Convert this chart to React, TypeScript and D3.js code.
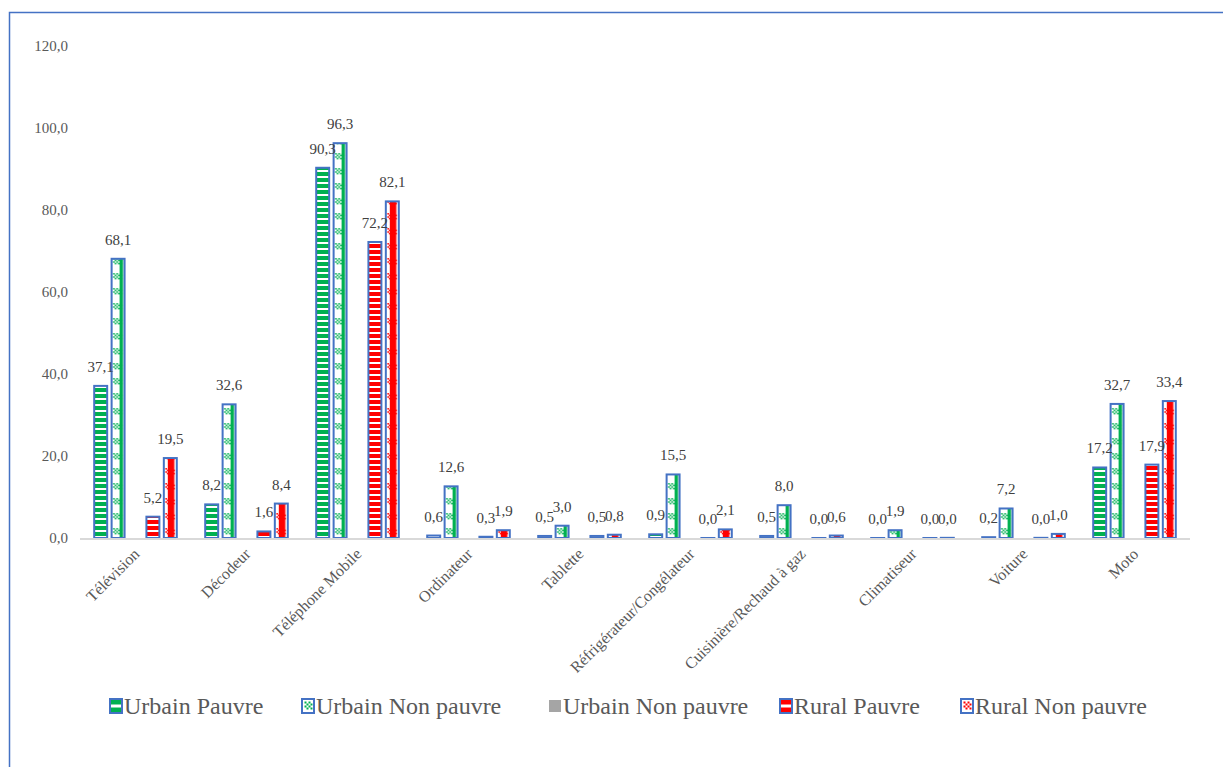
import React from "react";
import * as d3 from "d3";

const categories = [
  "Télévision",
  "Décodeur",
  "Téléphone Mobile",
  "Ordinateur",
  "Tablette",
  "Réfrigérateur/Congélateur",
  "Cuisinière/Rechaud à gaz",
  "Climatiseur",
  "Voiture",
  "Moto",
];
const urbainPauvre = [37.1, 8.2, 90.3, 0.6, 0.5, 0.9, 0.5, 0.0, 0.2, 17.2];
const urbainNonPauvre = [68.1, 32.6, 96.3, 12.6, 3.0, 15.5, 8.0, 1.9, 7.2, 32.7];
const urbainNonPauvreGris: (number | null)[] = [null, null, null, null, null, null, null, null, null, null];
const ruralPauvre = [5.2, 1.6, 72.2, 0.3, 0.5, 0.0, 0.0, 0.0, 0.04, 17.9];
const ruralNonPauvre = [19.5, 8.4, 82.1, 1.9, 0.8, 2.1, 0.6, 0.04, 1.0, 33.4];
const seriesNames = ["Urbain Pauvre", "Urbain Non pauvre", "Urbain Non pauvre", "Rural Pauvre", "Rural Non pauvre"];
const yTicks = [0, 20, 40, 60, 80, 100, 120];

const W = 1223;
const H = 767;
const FONT = '"Liberation Serif", "DejaVu Serif", serif';
const BLUE = "#4472C4";
const GREEN = "#00B050";
const RED = "#FF0000";

type Kind = "hstripe" | "motif" | "grey";
const seriesStyle: { kind: Kind; color: string }[] = [
  { kind: "hstripe", color: GREEN },
  { kind: "motif", color: GREEN },
  { kind: "grey", color: "#A5A5A5" },
  { kind: "hstripe", color: RED },
  { kind: "motif", color: RED },
];
const legendX = [110, 302, 549, 780, 961];

const fmt = (v: number) => v.toFixed(1).replace(".", ",");
const tStyle = { fontFamily: FONT };

export default function App() {
  const allSeries = [urbainPauvre, urbainNonPauvre, urbainNonPauvreGris, ruralPauvre, ruralNonPauvre];
  const x = d3.scaleBand<string>().domain(categories).range([80, 1190]).paddingInner(0.216).paddingOuter(0.108);
  const inner = d3
    .scaleBand<number>()
    .domain([0, 1, 2, 3, 4])
    .range([0, x.bandwidth()])
    .paddingInner(0.14)
    .paddingOuter(0.07);
  const y = d3.scaleLinear().domain([0, 120]).range([538, 46]);
  const y0 = y(0);
  const bw = inner.bandwidth();

  const defs: React.ReactNode[] = [];
  const bars: React.ReactNode[] = [];
  const labels: React.ReactNode[] = [];

  ["g", "r"].forEach((k) => {
    const c = k === "g" ? GREEN : RED;
    defs.push(
      <pattern key={"hs" + k} id={"hs-" + k} patternUnits="userSpaceOnUse" x={0} y={y0} width={8} height={6}>
        <rect x={0} y={0} width={8} height={6} fill="#fff" />
        <rect x={0} y={0} width={8} height={4} fill={c} />
      </pattern>
    );
  });

  const motif = (c: string, stripeX: number, stripeW: number, w: number, keyp: string) => {
    const sq: React.ReactNode[] = [];
    const s = 1.6;
    for (let r = 0; r < 4; r++) {
      for (let col = 0; col < 6; col++) {
        if ((r + col) % 2 === 0) {
          sq.push(<rect key={keyp + r + "-" + col} x={2.5 + col * s} y={5 + r * s} width={s} height={s} fill={c} />);
        }
      }
    }
    return (
      <>
        <rect x={0} y={0} width={w} height={15} fill="#fff" />
        <rect x={stripeX} y={0} width={stripeW} height={15} fill={c} />
        {sq}
      </>
    );
  };

  allSeries.forEach((vals, s) => {
    const st = seriesStyle[s];
    vals.forEach((v, i) => {
      if (v === null || v === undefined) return;
      const bx = (x(categories[i]) as number) + (inner(s) as number);
      const top = y(v);
      const h = Math.max(y0 - top, 0.01);
      let fill = "#A5A5A5";
      if (st.kind === "hstripe") fill = st.color === GREEN ? "url(#hs-g)" : "url(#hs-r)";
      if (st.kind === "motif") {
        const id = `m-${s}-${i}`;
        const isG = st.color === GREEN;
        defs.push(
          <pattern key={id} id={id} patternUnits="userSpaceOnUse" x={bx} y={y0} width={bw} height={15}>
            {isG ? motif(GREEN, 9, 3.5, bw, id) : motif(RED, 5, 6.5, bw, id)}
          </pattern>
        );
        fill = `url(#${id})`;
      }
      bars.push(
        <rect
          key={`b-${s}-${i}`}
          x={bx + 1}
          y={y0 - h}
          width={bw - 2}
          height={h}
          fill={fill}
          stroke={BLUE}
          strokeWidth={2}
        />
      );
      labels.push(
        <text
          key={`l-${s}-${i}`}
          x={bx + bw / 2}
          y={top - 14}
          textAnchor="middle"
          fontSize={15}
          fill="#404040"
          style={tStyle}
        >
          {fmt(v)}
        </text>
      );
    });
  });

  const legendSwatch = (s: number, lx: number, ly: number) => {
    const st = seriesStyle[s];
    if (st.kind === "grey") return <rect x={lx} y={ly - 6} width={12} height={12} fill="#A5A5A5" />;
    if (st.kind === "hstripe")
      return (
        <g>
          <rect x={lx} y={ly - 7} width={12} height={14} fill={st.color} stroke={BLUE} strokeWidth={2} />
          <rect x={lx + 1} y={ly - 1.5} width={10} height={3} fill="#fff" />
        </g>
      );
    const sq: React.ReactNode[] = [];
    for (let r = 0; r < 4; r++)
      for (let c = 0; c < 4; c++)
        if ((r + c) % 2 === 0)
          sq.push(<rect key={r + "-" + c} x={lx + 2.5 + c * 2} y={ly - 4.5 + r * 2} width={2} height={2} fill={st.color} />);
    return (
      <g>
        <rect x={lx} y={ly - 7} width={12} height={14} fill="#fff" stroke={BLUE} strokeWidth={2} />
        {sq}
      </g>
    );
  };

  return (
    <svg width={W} height={H} style={{ position: "absolute", left: 0, top: 0, background: "#fff", fontFamily: FONT }}>
      <defs>{defs}</defs>
      <rect x={0} y={0} width={W} height={H} fill="#fff" />
      <rect x={9.5} y={12.5} width={W + 20} height={H + 20} fill="none" stroke={BLUE} strokeWidth={1.5} />
      {yTicks.map((t) => (
        <text key={t} x={68} y={y(t)} dy="0.35em" textAnchor="end" fontSize={15} fill="#595959" style={tStyle}>
          {fmt(t)}
        </text>
      ))}
      {bars}
      <line x1={80} x2={1190} y1={y0 + 1} y2={y0 + 1} stroke="#D9D9D9" strokeWidth={2} />
      {labels}
      {categories.map((c) => {
        const cx = (x(c) as number) + x.bandwidth() / 2;
        return (
          <text
            key={c}
            transform={`translate(${cx + 5},${y0 + 17}) rotate(-45)`}
            textAnchor="end"
            fontSize={16}
            fill="#595959"
            style={tStyle}
          >
            {c}
          </text>
        );
      })}
      {seriesNames.map((n, s) => (
        <g key={s}>
          {legendSwatch(s, legendX[s], 706)}
          <text x={legendX[s] + 14} y={706} dy="0.35em" fontSize={24} fill="#595959" style={tStyle}>
            {n}
          </text>
        </g>
      ))}
    </svg>
  );
}
